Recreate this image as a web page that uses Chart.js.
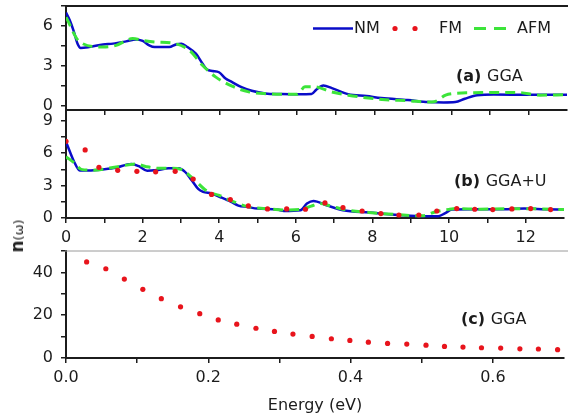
<!DOCTYPE html>
<html>
<head>
<meta charset="utf-8">
<script src="https://cdn.jsdelivr.net/npm/chart.js@4.4.1/dist/chart.umd.min.js"></script>
<style>
  body { margin: 0; background: #fff; }
  #wrap { position: relative; width: 568px; height: 419px; overflow: hidden; }
  #wrap canvas { position: absolute; left: 0; }
  #ylab {
    position: absolute; left: 17px; top: 236px;
    transform: translate(-50%, -50%) rotate(-90deg);
    font-family: "DejaVu Sans"; color: #222; white-space: nowrap;
  }
  #ylab b { font-size: 17px; }
  #ylab span { font-size: 13px; }
</style>
</head>
<body>
<div id="wrap">
  <canvas id="panelA" width="568" height="120" style="top:0"></canvas>
  <canvas id="panelB" width="568" height="150" style="top:100px"></canvas>
  <canvas id="panelC" width="568" height="179" style="top:240px"></canvas>
  <div id="ylab"><b>n</b><span>(ω)</span></div>
</div>
<script>
// (a) GGA
const eNM_a = [0, 0.1, 0.2, 0.3, 0.38, 0.6, 0.96, 1.22, 1.56, 1.82, 1.99, 2.16, 2.3, 2.68, 2.85, 3.0, 3.15, 3.37, 3.54, 3.66, 3.8, 3.97, 4.14, 4.3, 4.57, 4.82, 5.17, 5.6, 6.03, 6.37, 6.5, 6.68, 6.9, 7.32, 7.8, 8.18, 8.87, 9.4, 9.8, 10.1, 10.35, 10.67, 11.1, 12.0, 13.0];
const nNM_a = [7.0, 6.4, 5.6, 4.65, 4.33, 4.4, 4.6, 4.66, 4.83, 4.98, 4.86, 4.53, 4.4, 4.4, 4.6, 4.66, 4.4, 3.9, 3.16, 2.7, 2.6, 2.5, 2.03, 1.77, 1.35, 1.1, 0.9, 0.85, 0.83, 0.85, 1.2, 1.5, 1.3, 0.85, 0.7, 0.55, 0.4, 0.25, 0.22, 0.25, 0.5, 0.77, 0.82, 0.8, 0.8];
const eAFM_a = [0, 0.36, 0.96, 1.3, 1.73, 1.99, 2.34, 2.77, 3.2, 3.54, 3.88, 4.31, 4.74, 5.2, 6.0, 6.2, 6.45, 6.89, 7.32, 8.2, 8.9, 9.4, 9.55, 9.85, 10.07, 10.5, 11.1, 11.7, 12.3, 13.0];
const nAFM_a = [6.66, 4.78, 4.4, 4.53, 5.04, 4.9, 4.78, 4.7, 4.16, 3.03, 2.15, 1.45, 1.02, 0.88, 0.83, 1.4, 1.4, 1.02, 0.77, 0.45, 0.35, 0.25, 0.27, 0.77, 0.9, 0.95, 0.98, 0.98, 0.77, 0.8];

// (b) GGA+U
const eNM_b = [0, 0.1, 0.2, 0.36, 0.6, 0.96, 1.3, 1.7, 1.9, 2.12, 2.4, 2.68, 2.94, 3.1, 3.28, 3.45, 3.58, 3.8, 4.05, 4.31, 4.5, 4.74, 5.0, 5.52, 5.69, 6.12, 6.29, 6.46, 6.8, 7.23, 7.92, 8.78, 9.38, 9.72, 9.9, 10.07, 10.67, 11.3, 11.96, 12.5, 13.0];
const nNM_b = [7.07, 6.15, 5.3, 4.4, 4.4, 4.5, 4.65, 5.0, 4.8, 4.37, 4.45, 4.6, 4.6, 4.3, 3.5, 2.7, 2.42, 2.27, 1.9, 1.49, 1.15, 1.02, 0.87, 0.78, 0.65, 0.72, 1.34, 1.58, 1.18, 0.72, 0.5, 0.25, 0.16, 0.16, 0.45, 0.78, 0.8, 0.8, 0.87, 0.82, 0.78];
const eFM_b = [0, 0.5, 0.86, 1.35, 1.85, 2.34, 2.85, 3.32, 3.8, 4.29, 4.76, 5.26, 5.76, 6.25, 6.76, 7.23, 7.73, 8.22, 8.69, 9.21, 9.68, 10.2, 10.67, 11.14, 11.64, 12.13, 12.65];
const nFM_b = [7.1, 6.3, 4.69, 4.41, 4.32, 4.28, 4.32, 3.6, 2.18, 1.71, 1.12, 0.84, 0.84, 0.81, 1.4, 0.97, 0.65, 0.41, 0.28, 0.28, 0.65, 0.87, 0.81, 0.78, 0.84, 0.87, 0.78];
const eAFM_b = [0, 0.23, 0.4, 0.7, 1.35, 1.82, 2.1, 2.42, 2.77, 3.0, 3.3, 3.71, 4.0, 4.31, 4.74, 5.2, 5.7, 6.1, 6.4, 6.63, 6.9, 7.3, 7.9, 8.7, 9.3, 9.64, 10.0, 10.2, 10.8, 11.5, 12.2, 13.0];
const nAFM_b = [5.67, 5.06, 4.5, 4.43, 4.75, 5.0, 4.75, 4.6, 4.6, 4.5, 3.7, 2.42, 2.1, 1.6, 1.05, 0.87, 0.75, 0.78, 1.1, 1.34, 1.12, 0.75, 0.52, 0.3, 0.2, 0.56, 0.8, 0.87, 0.82, 0.85, 0.85, 0.78];

// (c) GGA, low energy
const eFM_c = [0.029, 0.056, 0.082, 0.108, 0.134, 0.161, 0.188, 0.214, 0.24, 0.267, 0.293, 0.319, 0.346, 0.373, 0.399, 0.425, 0.452, 0.479, 0.506, 0.532, 0.558, 0.584, 0.611, 0.638, 0.664, 0.691];
const nFM_c = [44.9, 41.7, 36.9, 32.1, 27.7, 23.9, 20.7, 17.8, 15.8, 13.9, 12.4, 11.2, 10.1, 9.0, 8.2, 7.4, 6.8, 6.5, 6.0, 5.4, 5.1, 4.8, 4.65, 4.3, 4.2, 3.9];

// ticks
const xTicksAB = [0, 1, 2, 3, 4, 5, 6, 7, 8, 9, 10, 11, 12];
const xTicksC = [0, 0.1, 0.2, 0.3, 0.4, 0.5, 0.6];
const yTicksA = [0, 1.5, 3, 4.5, 6, 7.5];
const yTicksB = [0, 1.5, 3, 4.5, 6, 7.5, 9];
const yTicksC = [0, 10, 20, 30, 40, 50];

const BLUE = '#0a0cc8', GREEN = '#3ce43a', RED = '#e8141c', INK = '#1c1c1c';
Chart.defaults.font.family = '"DejaVu Sans", sans-serif';

const pts = (xs, ys) => xs.map((x, i) => ({ x: x, y: ys[i] }));

const nmStyle = { borderColor: BLUE, borderWidth: 2.5, pointRadius: 0, cubicInterpolationMode: 'monotone' };
const afmStyle = { borderColor: GREEN, borderWidth: 3, borderDash: [10, 6], pointRadius: 0, cubicInterpolationMode: 'monotone' };
const fmStyle = { showLine: false, pointRadius: 2.6, pointBackgroundColor: RED, pointBorderWidth: 0 };

// draws top frame line, panel tag and (for panel a) the legend
const decor = {
  id: 'decor',
  afterDraw(chart, args, o) {
    const ctx = chart.ctx, a = chart.chartArea;
    ctx.save();
    if (o.top) {
      ctx.strokeStyle = o.top.color;
      ctx.lineWidth = o.top.width;
      ctx.beginPath();
      ctx.moveTo(a.left - 1, a.top);
      ctx.lineTo(chart.width, a.top);
      ctx.stroke();
    }
    if (o.tag) {
      ctx.fillStyle = INK;
      ctx.textBaseline = 'middle';
      ctx.textAlign = 'left';
      ctx.font = 'bold 16px "DejaVu Sans"';
      ctx.fillText(o.tag[0], o.tagX, o.tagY);
      const w = ctx.measureText(o.tag[0] + ' ').width;
      ctx.font = '16px "DejaVu Sans"';
      ctx.fillText(o.tag[1], o.tagX + w, o.tagY);
    }
    if (o.legend) {
      const y = 28.5;
      ctx.font = '16px "DejaVu Sans"';
      ctx.fillStyle = INK;
      ctx.textBaseline = 'middle';
      ctx.fillText('NM', 354, y);
      ctx.fillText('FM', 439, y);
      ctx.fillText('AFM', 517, y);
      ctx.strokeStyle = BLUE; ctx.lineWidth = 2.5;
      ctx.beginPath(); ctx.moveTo(313, y); ctx.lineTo(353, y); ctx.stroke();
      ctx.fillStyle = RED;
      [395, 415].forEach(x => { ctx.beginPath(); ctx.arc(x, y, 2.6, 0, Math.PI * 2); ctx.fill(); });
      ctx.strokeStyle = GREEN; ctx.lineWidth = 3; ctx.setLineDash([12, 8]);
      ctx.beginPath(); ctx.moveTo(474, y); ctx.lineTo(508, y); ctx.stroke();
    }
    ctx.restore();
  }
};

function fixSize(prop, size) {
  return s => {
    s[prop] = size;
    s.paddingTop = s.paddingBottom = s.paddingLeft = s.paddingRight = 0;
  };
}

function axisX(min, max, ticks, label, height, title) {
  return {
    type: 'linear', min: min, max: max,
    afterBuildTicks: s => { s.ticks = ticks.map(v => ({ value: v })); },
    afterFit: fixSize('height', height),
    border: { color: INK, width: 2 },
    grid: { drawOnChartArea: false, color: INK, lineWidth: 1.5, tickLength: 5 },
    ticks: { autoSkip: false, maxRotation: 0, padding: 5, color: INK, font: { size: 16 }, callback: label },
    title: title ? { display: true, text: title, color: INK, font: { size: 16 } } : { display: false }
  };
}

function axisY(min, max, ticks, every) {
  return {
    type: 'linear', min: min, max: max,
    afterBuildTicks: s => { s.ticks = ticks.map(v => ({ value: v })); },
    afterFit: fixSize('width', 66),
    border: { color: INK, width: 2 },
    grid: { drawOnChartArea: false, color: INK, lineWidth: 1.5, tickLength: 5 },
    ticks: { autoSkip: false, padding: 8, color: INK, font: { size: 16 },
      callback: v => (Math.abs(v / every - Math.round(v / every)) < 1e-6 && v < max ? String(v) : '') }
  };
}

function panel(id, datasets, x, y, padTop, decorOpts) {
  return new Chart(document.getElementById(id), {
    type: 'line',
    data: { datasets: datasets },
    options: {
      responsive: false,
      devicePixelRatio: 1,
      animation: false,
      parsing: true,
      layout: { padding: { top: padTop, right: 1, left: 0, bottom: 0 } },
      scales: { x: x, y: y },
      plugins: { legend: { display: false }, tooltip: { enabled: false }, decor: decorOpts }
    },
    plugins: [decor]
  });
}

// (a)
panel('panelA', [
  Object.assign({ label: 'AFM', data: pts(eAFM_a, nAFM_a) }, afmStyle),
  Object.assign({ label: 'NM', data: pts(eNM_a, nNM_a) }, nmStyle)
], axisX(0, 13, xTicksAB, () => '', 10), axisY(-0.35, 7.5, yTicksA, 3), 6,
  { top: { color: INK, width: 2 }, tag: ['(a)', 'GGA'], tagX: 456, tagY: 77, legend: true });

// (b)
panel('panelB', [
  Object.assign({ label: 'FM', data: pts(eFM_b, nFM_b) }, fmStyle),
  Object.assign({ label: 'AFM', data: pts(eAFM_b, nAFM_b) }, afmStyle),
  Object.assign({ label: 'NM', data: pts(eNM_b, nNM_b) }, nmStyle)
], axisX(0, 13, xTicksAB, v => (v % 2 === 0 ? String(v) : ''), 32), axisY(0, 10, yTicksB, 3), 10,
  { tag: ['(b)', 'GGA+U'], tagX: 454, tagY: 82 });

// (c)
panel('panelC', [
  Object.assign({ label: 'FM', data: pts(eFM_c, nFM_c) }, fmStyle)
], axisX(0, 0.7, xTicksC, v => (Math.round(v * 10) % 2 === 0 ? v.toFixed(1) : ''), 61, 'Energy (eV)'),
  axisY(0, 50, yTicksC, 20), 11,
  { top: { color: '#9a9a9a', width: 1 }, tag: ['(c)', 'GGA'], tagX: 461, tagY: 80 });
</script>
</body>
</html>
